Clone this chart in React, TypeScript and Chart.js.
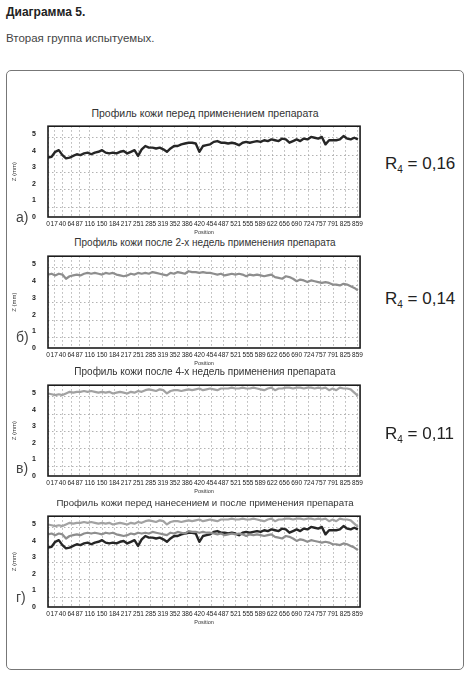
import React, { useEffect, useRef } from "react";
import { Chart, registerables } from "chart.js";

Chart.register(...registerables);

const POSITIONS = [
  0, 10, 20, 30, 40, 50, 60, 70, 80, 90,
  100, 110, 120, 130, 140, 150, 160, 170, 180, 190,
  200, 210, 220, 230, 240, 250, 260, 270, 280, 290,
  300, 310, 320, 330, 340, 350, 360, 370, 380, 390,
  400, 410, 420, 430, 440, 450, 460, 470, 480, 490,
  500, 510, 520, 530, 540, 550, 560, 570, 580, 590,
  600, 610, 620, 630, 640, 650, 660, 670, 680, 690,
  700, 710, 720, 730, 740, 750, 760, 770, 780, 790,
  800, 810, 820, 830, 840, 850, 860,
];

const BEFORE = [
  3.6, 3.65, 3.95, 4.05, 3.75, 3.55, 3.6, 3.7, 3.8, 3.75,
  3.85, 3.9, 3.8, 3.9, 3.95, 4.05, 3.9, 3.85, 3.9, 3.85,
  3.95, 4.0, 3.85, 3.95, 4.05, 3.7, 4.1, 4.3, 4.2, 4.2,
  4.15, 4.2, 4.1, 3.95, 4.15, 4.3, 4.3, 4.4, 4.45, 4.5,
  4.5, 4.45, 3.95, 4.3, 4.35, 4.4, 4.55, 4.6, 4.5, 4.5,
  4.45, 4.5, 4.45, 4.35, 4.5, 4.55, 4.5, 4.55, 4.6, 4.55,
  4.65, 4.6, 4.7, 4.65, 4.6, 4.75, 4.7, 4.5, 4.6, 4.7,
  4.6, 4.75, 4.7, 4.85, 4.8, 4.75, 4.85, 4.4, 4.65, 4.65,
  4.65, 4.7, 4.9, 4.75, 4.7, 4.8, 4.7,
];

const WEEK2 = [
  4.4, 4.45, 4.35, 4.45, 4.4, 4.15, 4.3, 4.35, 4.4, 4.35,
  4.45, 4.5, 4.45, 4.5, 4.45, 4.4, 4.5, 4.45, 4.5, 4.4,
  4.35, 4.3, 4.35, 4.45, 4.4, 4.5, 4.45, 4.5, 4.45, 4.55,
  4.5, 4.45, 4.4, 4.35, 4.5, 4.45, 4.55, 4.5, 4.45, 4.6,
  4.55, 4.55, 4.5, 4.55, 4.5, 4.5, 4.45, 4.4, 4.45, 4.35,
  4.4, 4.45, 4.4, 4.45, 4.4, 4.3, 4.4, 4.35, 4.4, 4.35,
  4.3, 4.35, 4.4, 4.25, 4.2, 4.15, 4.3, 4.25, 4.15, 4.0,
  4.1, 4.05, 3.95, 4.05, 4.0, 3.95, 3.9, 3.95, 3.9, 3.8,
  3.8, 3.75, 3.85, 3.8, 3.7, 3.6, 3.45,
];

const WEEK4 = [
  5.0, 4.95, 4.9, 4.95, 4.9, 5.0, 5.1, 5.05, 5.1, 5.1,
  5.15, 5.1, 5.15, 5.1, 5.05, 5.1, 5.05, 5.1, 5.0, 5.05,
  5.1, 5.05, 5.0, 5.1, 5.05, 5.15, 5.1, 5.2, 5.25, 5.2,
  5.15, 5.25, 5.2, 5.0, 5.15, 5.2, 5.2, 5.15, 5.2, 5.25,
  5.2, 5.25, 5.3, 5.2, 5.25, 5.3, 5.25, 5.2, 5.3, 5.3,
  5.3, 5.35, 5.3, 5.3, 5.35, 5.3, 5.3, 5.35, 5.3, 5.25,
  5.2, 5.3, 5.35, 5.2, 5.3, 5.3, 5.35, 5.35, 5.3, 5.35,
  5.35, 5.3, 5.35, 5.35, 5.3, 5.35, 5.3, 5.35, 5.2, 5.3,
  5.2, 5.35, 5.3, 5.3, 5.25, 5.05, 4.85,
];

const X_TICKS = [
  0, 17, 40, 64, 87, 116, 150, 184, 217, 251, 285, 319, 352, 386,
  420, 454, 487, 521, 555, 589, 622, 656, 690, 724, 757, 791, 825, 859,
];
const Y_TICKS = [0, 1, 2, 3, 4, 5];
const Y_GRID = [0.6, 1.65, 2.7, 3.75, 4.8];

const TITLES = [
  "Профиль кожи перед применением препарата",
  "Профиль кожи после 2-х недель применения препарата",
  "Профиль кожи после 4-х недель применения препарата",
  "Профиль кожи перед нанесением и после применения препарата",
];
const PANEL_LABELS = ["а)", "б)", "в)", "г)"];
const R_VALUES = ["0,16", "0,14", "0,11"];

const COL_BEFORE = "#262626";
const COL_W2 = "#8e8e8e";
const COL_W4 = "#a2a2a2";

type Series = { values: number[]; color: string; width: number };

const framePlugin = {
  id: "plotFrame",
  afterDraw(chart: any) {
    const { ctx, chartArea } = chart;
    ctx.save();
    ctx.setLineDash([]);
    ctx.strokeStyle = "#1c1c1c";
    ctx.lineWidth = 1.6;
    ctx.strokeRect(
      chartArea.left,
      chartArea.top,
      chartArea.right - chartArea.left,
      chartArea.bottom - chartArea.top
    );
    ctx.restore();
  },
};

function ProfileChart({
  series,
  top,
  plotHeight,
}: {
  series: Series[];
  top: number;
  plotHeight: number;
}) {
  const ref = useRef<HTMLCanvasElement | null>(null);
  const W = 355;
  const H = plotHeight + 4 + 19;
  useEffect(() => {
    if (!ref.current) return;
    const chart = new Chart(ref.current, {
      type: "line",
      data: {
        datasets: series.map((s) => ({
          data: POSITIONS.map((x, i) => ({ x, y: s.values[i] })),
          borderColor: s.color,
          borderWidth: s.width,
          pointRadius: 0,
          tension: 0,
          borderJoinStyle: "round" as const,
          fill: false,
        })),
      },
      options: {
        animation: false,
        responsive: false,
        devicePixelRatio: 1,
        layout: { padding: { top: 4, right: 4, left: 0, bottom: 0 } },
        plugins: { legend: { display: false }, tooltip: { enabled: false } },
        scales: {
          x: {
            type: "linear",
            min: 0,
            max: 866,
            afterBuildTicks: (axis: any) => {
              axis.ticks = X_TICKS.map((v) => ({ value: v }));
            },
            afterFit: (axis: any) => {
              axis.height = 19;
            },
            ticks: {
              autoSkip: false,
              maxRotation: 0,
              padding: 3,
              color: "#222",
              font: { size: 6.5, family: "'Liberation Sans', sans-serif" },
              callback: (v: any) => String(v),
            },
            grid: {
              color: "#a0a0a0",
              lineWidth: 0.8,
              drawTicks: false,
            },
            border: { display: false, dash: [1.5, 2.5] },
            title: {
              display: true,
              text: "Position",
              color: "#333",
              padding: 0,
              font: { size: 5.5, family: "Liberation Sans" },
            },
          },
          y: {
            type: "linear",
            min: 0,
            max: 5.5,
            afterBuildTicks: (axis: any) => {
              axis.ticks = Y_TICKS.map((v) => ({ value: v }));
            },
            afterFit: (axis: any) => {
              axis.width = 37;
            },
            ticks: {
              padding: 4,
              color: "#222",
              font: { size: 7, weight: "bold", family: "Liberation Sans" },
            },
            grid: { display: false },
            border: { display: false },
            title: {
              display: true,
              text: "Z (mm)",
              color: "#333",
              padding: 0,
              font: { size: 6, family: "Liberation Sans" },
            },
          },
          yg: {
            type: "linear",
            position: "right",
            min: 0,
            max: 5.5,
            afterBuildTicks: (axis: any) => {
              axis.ticks = Y_GRID.map((v) => ({ value: v }));
            },
            afterFit: (axis: any) => {
              axis.width = 0;
            },
            ticks: { display: false },
            border: { display: false, dash: [1.5, 2.5] },
            grid: { color: "#a0a0a0", lineWidth: 0.8, drawTicks: false },
          },
        },
      } as any,
      plugins: [framePlugin],
    });
    return () => chart.destroy();
  }, []);
  return (
    <canvas
      ref={ref}
      width={W}
      height={H}
      style={{ position: "absolute", left: 11, top: top - 4, width: W, height: H }}
    />
  );
}

const PANELS = [
  {
    title: TITLES[0],
    titleSize: 10.5,
    series: [{ values: BEFORE, color: COL_BEFORE, width: 2.4 }],
    plotTop: 122,
    plotBottom: 217,
    labelY: 218,
    rY: 165,
    r: R_VALUES[0],
  },
  {
    title: TITLES[1],
    titleSize: 10,
    series: [{ values: WEEK2, color: COL_W2, width: 2.2 }],
    plotTop: 252,
    plotBottom: 348,
    labelY: 338,
    rY: 300,
    r: R_VALUES[1],
  },
  {
    title: TITLES[2],
    titleSize: 10,
    series: [{ values: WEEK4, color: COL_W4, width: 2.2 }],
    plotTop: 381,
    plotBottom: 476,
    labelY: 469,
    rY: 435,
    r: R_VALUES[2],
  },
  {
    title: TITLES[3],
    titleSize: 9.7,
    series: [
      { values: WEEK4, color: COL_W4, width: 2.2 },
      { values: WEEK2, color: COL_W2, width: 2.2 },
      { values: BEFORE, color: COL_BEFORE, width: 2.4 },
    ],
    plotTop: 512,
    plotBottom: 607,
    labelY: 598,
    rY: 0,
    r: "",
  },
];

export default function App() {
  return (
    <div
      style={{
        position: "absolute",
        left: 0,
        top: 0,
        width: 476,
        height: 675,
        background: "#ffffff",
        fontFamily: "'Liberation Sans', Arial, sans-serif",
        overflow: "hidden",
      }}
    >
      <div
        style={{
          position: "absolute",
          left: 6,
          top: 5,
          fontSize: 12,
          fontWeight: "bold",
          color: "#222",
        }}
      >
        Диаграмма 5.
      </div>
      <div style={{ position: "absolute", left: 6, top: 32, fontSize: 11.5, color: "#444" }}>
        Вторая группа испытуемых.
      </div>
      <div
        style={{
          position: "absolute",
          left: 6,
          top: 70,
          width: 456,
          height: 598,
          border: "1.5px solid #777",
          borderRadius: 5,
        }}
      />
      {PANELS.map((p, i) => (
        <React.Fragment key={i}>
          <div
            style={{
              position: "absolute",
              left: 5,
              width: 400,
              top: p.plotTop - 15,
              textAlign: "center",
              fontSize: p.titleSize,
              lineHeight: "12px",
              color: "#333",
              whiteSpace: "nowrap",
            }}
          >
            {p.title}
          </div>
          <ProfileChart
            series={p.series}
            top={p.plotTop}
            plotHeight={p.plotBottom - p.plotTop}
          />
          <div
            style={{
              position: "absolute",
              left: 16,
              top: p.labelY - 9,
              fontSize: 14,
              color: "#444",
            }}
          >
            {PANEL_LABELS[i]}
          </div>
          {p.r && (
            <div
              style={{
                position: "absolute",
                left: 385,
                top: p.rY - 11,
                fontSize: 17,
                color: "#222",
                whiteSpace: "nowrap",
              }}
            >
              R<sub style={{ fontSize: 10, verticalAlign: "-4px" }}>4</sub> = {p.r}
            </div>
          )}
        </React.Fragment>
      ))}
    </div>
  );
}
